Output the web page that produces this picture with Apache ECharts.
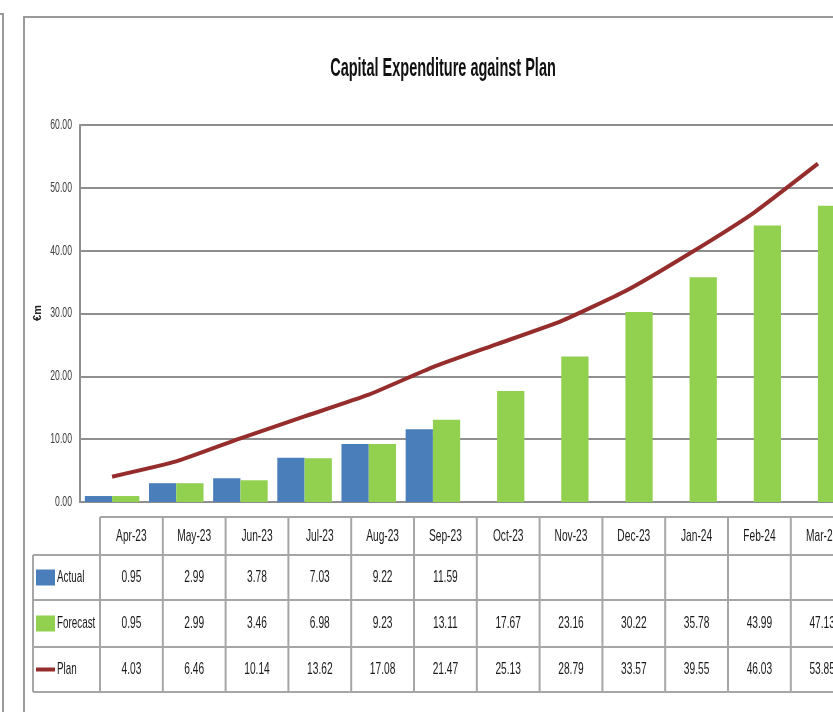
<!DOCTYPE html>
<html>
<head>
<meta charset="utf-8">
<title>Capital Expenditure against Plan</title>
<script src="https://cdn.jsdelivr.net/npm/echarts@6/dist/echarts.min.js"></script>
<style>
  html, body { margin: 0; padding: 0; background: #fff; }
  #main { width: 833px; height: 712px; }
</style>
</head>
<body>
<div id="main"></div>
<script>
// 数据
const months = ['Apr-23', 'May-23', 'Jun-23', 'Jul-23', 'Aug-23', 'Sep-23', 'Oct-23', 'Nov-23', 'Dec-23', 'Jan-24', 'Feb-24', 'Mar-24'];
const actual = [0.95, 2.99, 3.78, 7.03, 9.22, 11.59, null, null, null, null, null, null];
const forecast = [0.95, 2.99, 3.46, 6.98, 9.23, 13.11, 17.67, 23.16, 30.22, 35.78, 43.99, 47.13];
const plan = [4.03, 6.46, 10.14, 13.62, 17.08, 21.47, 25.13, 28.79, 33.57, 39.55, 46.03, 53.85];
const yTicks = [0, 10, 20, 30, 40, 50, 60];
const seriesNames = ['Actual', 'Forecast', 'Plan'];

const BLUE = '#4a7ebb';
const GREEN = '#92d050';
const RED = '#962d2d';
const GRID = '#8f8f8f';
const FONT = '"Liberation Sans", Arial, sans-serif';
const SQUEEZE = 0.6; // 原图文字是被横向压扁的

let myChart = echarts.init(document.getElementById('main'));

// 压扁的文字
function txt(x, y, s, size, opts) {
  opts = opts || {};
  return {
    type: 'text', x: x, y: y, silent: true,
    scaleX: opts.scaleX || SQUEEZE,
    rotation: opts.rotation || 0,
    style: {
      text: s, fill: opts.color || '#1a1a1a',
      font: (opts.bold ? 'bold ' : '') + size + 'px ' + FONT,
      align: opts.align || 'center', verticalAlign: 'middle'
    }
  };
}

// 表格（data table）用 graphic 画
function buildTable() {
  const els = [];
  const x0 = 100, colW = 62.8, legendX = 33;
  const rows = [517, 555, 600, 647, 692];
  const right = 860;
  const line = (x1, y1, x2, y2) => ({
    type: 'line', shape: {x1, y1, x2, y2},
    style: {stroke: '#a6a6a6', lineWidth: 2}, silent: true
  });
  // 横线
  els.push(line(x0, rows[0], right, rows[0]));
  for (let i = 1; i < rows.length; i++) els.push(line(legendX, rows[i], right, rows[i]));
  // 竖线
  els.push(line(legendX, rows[1], legendX, rows[4]));
  for (let c = 0; c <= months.length; c++) {
    const x = x0 + c * colW;
    els.push(line(x, rows[0], x, rows[4]));
  }
  const rowData = [actual, forecast, plan];
  months.forEach((m, c) => {
    const cx = x0 + c * colW + colW / 2;
    els.push(txt(cx, (rows[0] + rows[1]) / 2, m, 17));
    rowData.forEach((arr, r) => {
      const v = arr[c];
      if (v != null) els.push(txt(cx, (rows[r + 1] + rows[r + 2]) / 2, v.toFixed(2), 17));
    });
  });
  // 图例
  const cols = [BLUE, GREEN, RED];
  seriesNames.forEach((n, r) => {
    const cy = (rows[r + 1] + rows[r + 2]) / 2;
    if (r < 2) {
      els.push({type: 'rect', silent: true, shape: {x: 36, y: cy - 8, width: 19, height: 16}, style: {fill: cols[r]}});
    } else {
      els.push({type: 'rect', silent: true, shape: {x: 36, y: cy - 2, width: 19, height: 4}, style: {fill: cols[r]}});
    }
    els.push(txt(57, cy, n, 17, {align: 'left', scaleX: 0.58}));
  });
  // 外框
  els.push({type: 'polyline', silent: true, shape: {points: [[0, 14], [3, 14], [3, 712]]}, style: {stroke: '#9a9a9a', lineWidth: 2, fill: null}});
  els.push({type: 'polyline', silent: true, shape: {points: [[24, 712], [24, 17], [833, 17]]}, style: {stroke: '#9a9a9a', lineWidth: 2, fill: null}});
  // 标题
  els.push(txt(443, 69, 'Capital Expenditure against Plan', 25, {bold: true, color: '#111', scaleX: 0.58}));
  // y轴名称
  els.push(txt(38, 313, '€m', 11, {bold: true, color: '#222', rotation: Math.PI / 2, scaleX: 1}));
  return els;
}

let option = {
  animation: false,
  backgroundColor: '#fff',
  grid: {left: 80, width: 770, top: 125, bottom: 210, containLabel: false, outerBoundsMode: 'none'},
  xAxis: {
    type: 'category',
    data: months,
    axisLine: {show: true, lineStyle: {color: GRID, width: 2}},
    axisTick: {show: false},
    axisLabel: {show: false}
  },
  yAxis: {
    type: 'value',
    min: yTicks[0], max: yTicks[yTicks.length - 1], interval: 10,
    axisLine: {show: true, lineStyle: {color: GRID, width: 2}},
    axisTick: {show: false},
    axisLabel: {show: false},
    splitLine: {show: true, lineStyle: {color: GRID, width: 2}}
  },
  series: [
    {
      name: seriesNames[0], type: 'bar', data: actual,
      itemStyle: {color: BLUE},
      barGap: '0%', barCategoryGap: '15%'
    },
    {
      name: seriesNames[1], type: 'bar', data: forecast,
      itemStyle: {color: GREEN},
      barGap: '0%', barCategoryGap: '15%'
    },
    {
      name: seriesNames[2], type: 'line', data: plan,
      symbol: 'none', smooth: 0.15,
      lineStyle: {color: RED, width: 4},
      itemStyle: {color: RED}
    }
  ]
};

myChart.setOption(option);

// y轴刻度文字：用坐标轴换算位置，再压扁
const tickEls = yTicks.map(v => {
  const y = myChart.convertToPixel({yAxisIndex: 0}, v);
  return txt(72, y, v.toFixed(2), 14, {align: 'right', color: '#404040', scaleX: 0.62});
});
myChart.setOption({graphic: buildTable().concat(tickEls)});
</script>
</body>
</html>
